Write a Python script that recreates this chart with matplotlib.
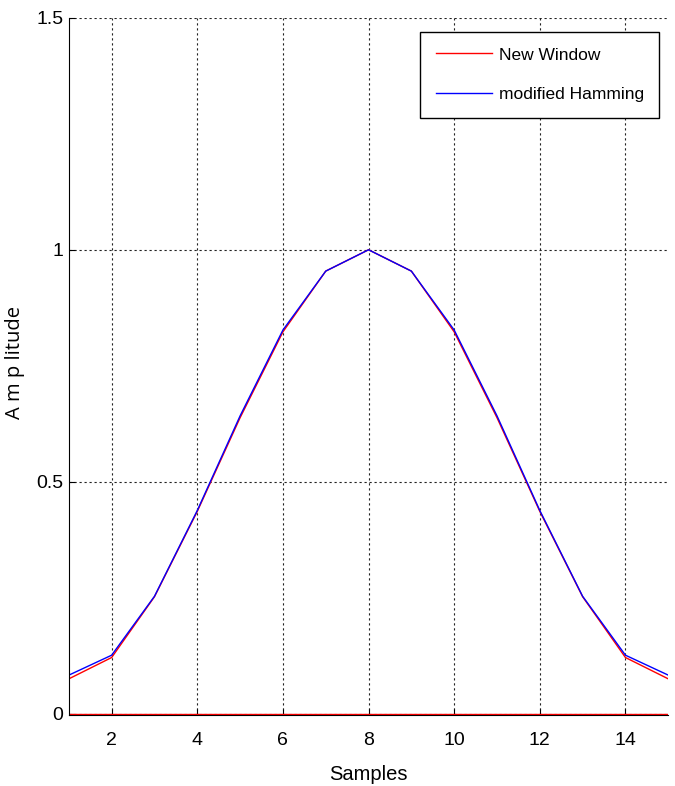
import matplotlib
matplotlib.use("Agg")
import matplotlib.pyplot as plt

plt.rcParams['font.family'] = ['Liberation Sans', 'DejaVu Sans']

# muestras de la ventana
samples = list(range(1, 16))

# ventana nueva (roja) y Hamming modificada (azul)
new_window = [0.075, 0.121, 0.252, 0.436, 0.638, 0.823, 0.954, 1.000,
              0.954, 0.823, 0.638, 0.436, 0.252, 0.121, 0.075]
mod_hamming = [0.083, 0.126, 0.253, 0.438, 0.642, 0.827, 0.954, 1.000,
               0.954, 0.827, 0.642, 0.438, 0.253, 0.126, 0.083]
zero_line = [0.0] * len(samples)

xticks = [2, 4, 6, 8, 10, 12, 14]
yticks = [0, 0.5, 1, 1.5]

fig = plt.figure(figsize=(6.75, 7.86), dpi=100)
ax = fig.add_axes([0.102, 0.0903, 0.888, 0.887])

ax.plot(samples, new_window, color='#ff0000', lw=1.0, label='New Window')
ax.plot(samples, mod_hamming, color='#0000ff', lw=1.0, label='modified Hamming')
ax.plot(samples, zero_line, color='#ff0000', lw=1.0)

ax.set_xlim(1, 15)
ax.set_ylim(-0.003, 1.5)
ax.set_xticks(xticks)
ax.set_yticks(yticks)
ax.set_yticklabels(['0', '0.5', '1', '1.5'])
ax.tick_params(direction='in', length=4, labelsize=14, pad=4)
ax.tick_params(axis='x', pad=12)

ax.grid(True, color='#222222', linestyle=(0, (2, 2.5)), lw=0.8)
for s in ax.spines.values():
    s.set_linewidth(0.8)
ax.spines['top'].set_visible(False)
ax.spines['right'].set_visible(False)

ax.set_xlabel('Samples', fontsize=14.5, labelpad=12)
ax.set_ylabel('A m p litude', fontsize=14.5,
              family=['Open Sans', 'DejaVu Sans'])
ax.yaxis.set_label_coords(-0.073, 0.505)

leg = ax.legend(loc='upper right', bbox_to_anchor=(0.985, 0.98),
                borderaxespad=0, fontsize=12.5, frameon=True, fancybox=False,
                edgecolor='black', framealpha=1,
                handlelength=3.2, handletextpad=0.4, labelspacing=1.4,
                borderpad=0.9)
leg.get_frame().set_linewidth(1.0)

fig.savefig('out.png', dpi=100)
